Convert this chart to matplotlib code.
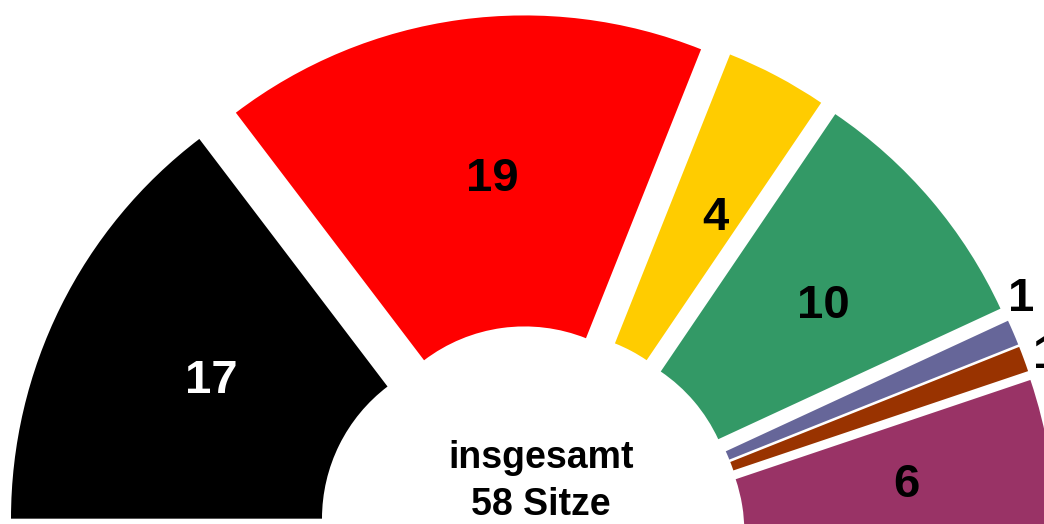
import matplotlib.pyplot as plt
import numpy as np

plt.rcParams['font.family'] = ['Liberation Sans', 'DejaVu Sans']

seats = [17, 19, 4, 10, 1, 1, 6]
colors = ['#000000', '#FF0000', '#FFCC00', '#339966', '#666699', '#993300', '#993366']
label_colors = ['white', 'black', 'black', 'black', 'black', 'black', 'black']
total = sum(seats)

# ring geometry in pixels, the ring centre is the origin
r_out = 477
r_in = 166
gap = 48
label_size = 34
label_dx = 11                                  # labels sit a bit right of the bisector
cap_half = 0.716 * label_size * 100 / 72 / 2   # half the digit height, px

fig = plt.figure(figsize=(10.44, 5.24), dpi=100)
ax = fig.add_axes([0, 0, 1, 1])

# lower half of the pie is an invisible slice of the same size
wedges, _ = ax.pie(seats + [total], colors=colors + ['none'],
                   startangle=180, counterclock=False, radius=r_out,
                   explode=[gap] * len(seats) + [0],
                   wedgeprops=dict(width=r_out - r_in, linewidth=0))

r_mid = (r_out + r_in) / 2
r_small = r_out * 1.05
min_sep = 62
placed = []
# go clockwise-reversed so the thin slices push their labels upwards
for w, n, c in reversed(list(zip(wedges, seats, label_colors))):
    mid = (w.theta1 + w.theta2) / 2
    x0, y0 = w.center
    if n > 1:
        x = x0 + r_mid * np.cos(np.deg2rad(mid)) + label_dx
        y = y0 + r_mid * np.sin(np.deg2rad(mid))
    else:
        ang = mid
        while True:
            x = x0 + r_small * np.cos(np.deg2rad(ang))
            y = y0 + r_small * np.sin(np.deg2rad(ang))
            if all(np.hypot(x - px, y - py) >= min_sep for px, py in placed):
                break
            ang += 0.1
        placed.append((x, y))
    ax.text(x, y - cap_half, str(n), ha='center', va='baseline',
            fontsize=label_size, fontweight='bold', color=c)

ax.text(10, 72, "insgesamt", ha='center', va='baseline', fontsize=27, fontweight='bold')
ax.text(10, 25, f"{total} Sitze", ha='center', va='baseline', fontsize=27, fontweight='bold')

ax.set_xlim(-531, 513)
ax.set_ylim(16, 540)
ax.axis('off')

fig.savefig('out.png', dpi=100)
